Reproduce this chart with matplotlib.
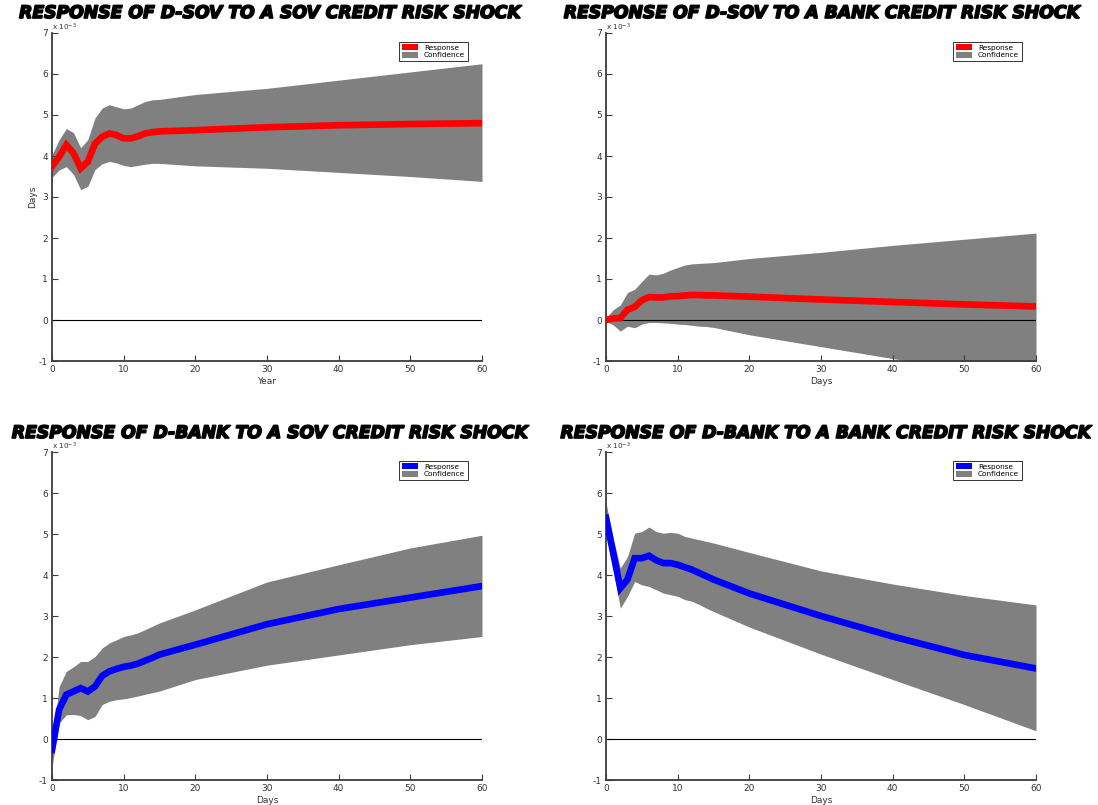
import numpy as np
import matplotlib.pyplot as plt
import matplotlib.patheffects as pe
from matplotlib.patches import Patch

plt.rcParams['axes.unicode_minus'] = False

# days at which the impulse responses are read (units of 1e-3)
days = [0, 1, 2, 3, 4, 5, 6, 7, 8, 9, 10, 11, 12, 13, 14, 15, 20, 30, 40, 50, 60]

# D-SOV to SOV shock
sov_sov_resp = [3.75, 3.98, 4.27, 4.07, 3.70, 3.86, 4.30, 4.47, 4.55, 4.51, 4.43,
                4.43, 4.48, 4.55, 4.58, 4.60, 4.63, 4.70, 4.75, 4.78, 4.80]
sov_sov_up = [4.03, 4.40, 4.67, 4.57, 4.20, 4.40, 4.93, 5.17, 5.25, 5.20, 5.15,
              5.17, 5.25, 5.33, 5.37, 5.38, 5.50, 5.65, 5.85, 6.05, 6.25]
sov_sov_lo = [3.48, 3.66, 3.74, 3.55, 3.18, 3.26, 3.67, 3.81, 3.87, 3.83, 3.77,
              3.74, 3.77, 3.80, 3.82, 3.82, 3.76, 3.70, 3.60, 3.50, 3.38]

# D-SOV to BANK shock
sov_bank_resp = [0.00, 0.04, 0.05, 0.25, 0.32, 0.48, 0.56, 0.55, 0.55, 0.58, 0.58,
                 0.60, 0.61, 0.61, 0.60, 0.60, 0.57, 0.50, 0.44, 0.38, 0.33]
sov_bank_up = [0.05, 0.25, 0.37, 0.67, 0.75, 0.94, 1.12, 1.10, 1.14, 1.22, 1.28,
               1.34, 1.37, 1.38, 1.39, 1.40, 1.50, 1.65, 1.82, 1.97, 2.12]
sov_bank_lo = [-0.03, -0.12, -0.27, -0.15, -0.19, -0.10, -0.06, -0.06, -0.07, -0.08, -0.10,
               -0.11, -0.13, -0.15, -0.16, -0.18, -0.36, -0.65, -0.94, -1.21, -1.46]

# D-BANK to SOV shock
bank_sov_resp = [-0.26, 0.72, 1.08, 1.16, 1.24, 1.16, 1.28, 1.54, 1.65, 1.71, 1.76,
                 1.79, 1.84, 1.91, 1.98, 2.06, 2.30, 2.80, 3.17, 3.45, 3.73]
bank_sov_up = [-0.10, 1.28, 1.65, 1.76, 1.89, 1.89, 2.01, 2.22, 2.34, 2.42, 2.50,
               2.54, 2.59, 2.67, 2.75, 2.83, 3.15, 3.83, 4.25, 4.66, 4.97]
bank_sov_lo = [-0.68, 0.39, 0.59, 0.60, 0.57, 0.47, 0.55, 0.84, 0.92, 0.96, 0.98,
               1.01, 1.05, 1.09, 1.13, 1.17, 1.45, 1.80, 2.05, 2.30, 2.50]

# D-BANK to BANK shock
bank_bank_resp = [5.39, 4.54, 3.68, 3.89, 4.41, 4.41, 4.47, 4.36, 4.29, 4.29, 4.25,
                  4.19, 4.13, 4.05, 3.97, 3.89, 3.55, 3.00, 2.50, 2.05, 1.72]
bank_bank_up = [5.76, 4.90, 4.17, 4.45, 5.02, 5.06, 5.17, 5.06, 5.02, 5.04, 5.02,
                4.94, 4.90, 4.86, 4.82, 4.78, 4.55, 4.10, 3.78, 3.50, 3.27]
bank_bank_lo = [5.03, 4.13, 3.19, 3.48, 3.84, 3.76, 3.72, 3.64, 3.56, 3.52, 3.48,
                3.40, 3.36, 3.28, 3.19, 3.11, 2.73, 2.07, 1.45, 0.84, 0.20]

panels = [
    ("RESPONSE OF D-SOV TO A SOV CREDIT RISK SHOCK", sov_sov_resp, sov_sov_up, sov_sov_lo, "red", "Year", "Days"),
    ("RESPONSE OF D-SOV TO A BANK CREDIT RISK SHOCK", sov_bank_resp, sov_bank_up, sov_bank_lo, "red", "Days", None),
    ("RESPONSE OF D-BANK TO A SOV CREDIT RISK SHOCK", bank_sov_resp, bank_sov_up, bank_sov_lo, "blue", "Days", None),
    ("RESPONSE OF D-BANK TO A BANK CREDIT RISK SHOCK", bank_bank_resp, bank_bank_up, bank_bank_lo, "blue", "Days", None),
]

W, H = 1098, 805
fig = plt.figure(figsize=(W / 100, H / 100), dpi=100)

# axes boxes in pixels: left, top, right, bottom
boxes = [(52, 33, 482, 361), (606, 33, 1036, 361),
         (52, 452, 482, 780), (606, 452, 1036, 780)]
title_pos = [(270, 13), (822, 13), (270, 433), (826, 433)]

gray = "#808080"
axc = "#3c3c3c"

for (title, resp, up, lo, col, xlab, ylab), (l, t, r, b), (tx, ty) in zip(panels, boxes, title_pos):
    ax = fig.add_axes([l / W, 1 - b / H, (r - l) / W, (b - t) / H])
    ax.fill_between(days, lo, up, color=gray, lw=0, zorder=1)
    ax.plot(days, resp, color=col, lw=4.8, solid_joinstyle="miter", zorder=3)
    ax.axhline(0, color="black", lw=0.8, zorder=2)
    ax.set_xlim(0, 60)
    ax.set_ylim(-1, 7)
    ax.set_xticks(range(0, 61, 10))
    ax.set_yticks(range(-1, 8))
    for s in ("top", "right"):
        ax.spines[s].set_visible(False)
    for s in ("left", "bottom"):
        ax.spines[s].set_color(axc)
        ax.spines[s].set_linewidth(1.3)
    ax.tick_params(direction="in", length=4, width=0.8, color=axc,
                   labelsize=6.5, labelcolor="#333333", pad=3)
    ax.set_xlabel(xlab, fontsize=6.5, color="#333333", labelpad=2)
    if ylab:
        ax.set_ylabel(ylab, fontsize=6.5, color="#333333", labelpad=1)
    ax.text(0.0, 1.0, r"x 10$^{-3}$", transform=ax.transAxes, fontsize=5.2,
            color="#333333", ha="left", va="bottom")
    handles = [Patch(facecolor=col, edgecolor="none", label="Response"),
               Patch(facecolor=gray, edgecolor="none", label="Confidence")]
    leg = ax.legend(handles=handles, loc="upper right", bbox_to_anchor=(0.975, 0.985),
                    fontsize=5.3, frameon=True, fancybox=False, handlelength=2.2,
                    handleheight=0.8, borderpad=0.35, labelspacing=0.2, handletextpad=0.8)
    leg.get_frame().set_edgecolor("black")
    leg.get_frame().set_linewidth(0.7)
    fig.text(tx / W, 1 - ty / H, title, ha="center", va="center",
             fontsize=12.4, fontweight="bold", style="italic", color="black",
             path_effects=[pe.withStroke(linewidth=1.2, foreground="black")])

fig.savefig("out.png", dpi=100)
